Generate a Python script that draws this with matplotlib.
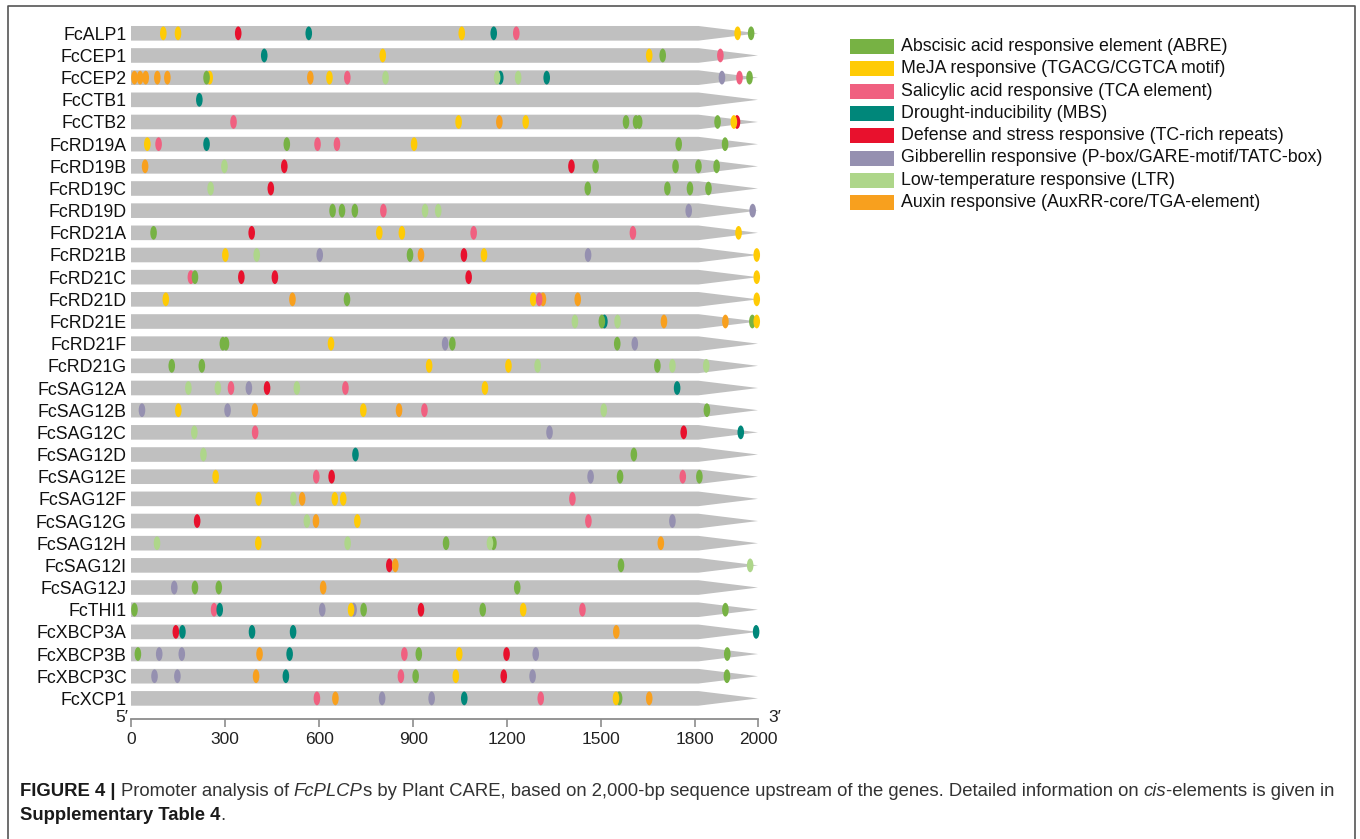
import matplotlib
matplotlib.use('Agg')
import matplotlib.pyplot as plt
from matplotlib.patches import Ellipse, Polygon, Rectangle

# --- DATA ---
genes = ['FcALP1', 'FcCEP1', 'FcCEP2', 'FcCTB1', 'FcCTB2',
         'FcRD19A', 'FcRD19B', 'FcRD19C', 'FcRD19D',
         'FcRD21A', 'FcRD21B', 'FcRD21C', 'FcRD21D', 'FcRD21E', 'FcRD21F', 'FcRD21G',
         'FcSAG12A', 'FcSAG12B', 'FcSAG12C', 'FcSAG12D', 'FcSAG12E',
         'FcSAG12F', 'FcSAG12G', 'FcSAG12H', 'FcSAG12I', 'FcSAG12J',
         'FcTHI1', 'FcXBCP3A', 'FcXBCP3B', 'FcXBCP3C', 'FcXCP1']

element_keys = ['ABRE', 'MeJA', 'SA', 'MBS', 'TC', 'GA', 'LTR', 'AUX']
element_names = ['Abscisic acid responsive element (ABRE)',
                 'MeJA responsive (TGACG/CGTCA motif)',
                 'Salicylic acid responsive (TCA element)',
                 'Drought-inducibility (MBS)',
                 'Defense and stress responsive (TC-rich repeats)',
                 'Gibberellin responsive (P-box/GARE-motif/TATC-box)',
                 'Low-temperature responsive (LTR)',
                 'Auxin responsive (AuxRR-core/TGA-element)']
element_colors = ['#77B244', '#FFCB05', '#F06080', '#00877A',
                  '#E8112D', '#9590B0', '#AED68A', '#F8A01E']

# cis-element positions (bp upstream), one list per gene
sites = [
    [(103, 'MeJA'), (150, 'MeJA'), (342, 'TC'), (567, 'MBS'), (1055, 'MeJA'), (1157, 'MBS'),
     (1229, 'SA'), (1935, 'MeJA'), (1978, 'ABRE')],                                    # FcALP1
    [(425, 'MBS'), (803, 'MeJA'), (1653, 'MeJA'), (1696, 'ABRE'), (1880, 'SA')],       # FcCEP1
    [(11, 'AUX'), (29, 'AUX'), (47, 'AUX'), (84, 'AUX'), (116, 'AUX'), (251, 'MeJA'),
     (241, 'ABRE'), (572, 'AUX'), (633, 'MeJA'), (690, 'SA'), (812, 'LTR'), (1178, 'MBS'),
     (1168, 'LTR'), (1235, 'LTR'), (1326, 'MBS'), (1885, 'GA'), (1941, 'SA'), (1973, 'ABRE')],  # FcCEP2
    [(218, 'MBS')],                                                                    # FcCTB1
    [(327, 'SA'), (1045, 'MeJA'), (1175, 'AUX'), (1259, 'MeJA'), (1579, 'ABRE'), (1611, 'ABRE'),
     (1621, 'ABRE'), (1871, 'ABRE'), (1933, 'TC'), (1923, 'MeJA')],                   # FcCTB2
    [(52, 'MeJA'), (88, 'SA'), (241, 'MBS'), (497, 'ABRE'), (595, 'SA'), (657, 'SA'),
     (903, 'MeJA'), (1747, 'ABRE'), (1895, 'ABRE')],                                  # FcRD19A
    [(45, 'AUX'), (298, 'LTR'), (489, 'TC'), (1405, 'TC'), (1482, 'ABRE'), (1737, 'ABRE'),
     (1810, 'ABRE'), (1868, 'ABRE')],                                                  # FcRD19B
    [(254, 'LTR'), (446, 'TC'), (1457, 'ABRE'), (1711, 'ABRE'), (1783, 'ABRE'), (1842, 'ABRE')],  # FcRD19C
    [(643, 'ABRE'), (673, 'ABRE'), (714, 'ABRE'), (805, 'SA'), (938, 'LTR'), (980, 'LTR'),
     (1779, 'GA'), (1983, 'GA')],                                                      # FcRD19D
    [(72, 'ABRE'), (385, 'TC'), (792, 'MeJA'), (864, 'MeJA'), (1093, 'SA'), (1601, 'SA'),
     (1938, 'MeJA')],                                                                  # FcRD21A
    [(301, 'MeJA'), (401, 'LTR'), (602, 'GA'), (890, 'ABRE'), (925, 'AUX'), (1062, 'TC'),
     (1126, 'MeJA'), (1458, 'GA'), (1996, 'MeJA')],                                    # FcRD21B
    [(191, 'SA'), (204, 'ABRE'), (352, 'TC'), (459, 'TC'), (1077, 'TC'), (1996, 'MeJA')],  # FcRD21C
    [(111, 'MeJA'), (515, 'AUX'), (689, 'ABRE'), (1283, 'MeJA'), (1314, 'AUX'), (1302, 'SA'),
     (1425, 'AUX'), (1996, 'MeJA')],                                                   # FcRD21D
    [(1416, 'LTR'), (1510, 'MBS'), (1502, 'ABRE'), (1552, 'LTR'), (1700, 'AUX'), (1896, 'AUX'),
     (1982, 'ABRE'), (1996, 'MeJA')],                                                  # FcRD21E
    [(293, 'ABRE'), (303, 'ABRE'), (638, 'MeJA'), (1002, 'GA'), (1025, 'ABRE'), (1551, 'ABRE'),
     (1607, 'GA')],                                                                    # FcRD21F
    [(130, 'ABRE'), (226, 'ABRE'), (951, 'MeJA'), (1204, 'MeJA'), (1297, 'LTR'), (1679, 'ABRE'),
     (1727, 'LTR'), (1835, 'LTR')],                                                    # FcRD21G
    [(183, 'LTR'), (277, 'LTR'), (319, 'SA'), (376, 'GA'), (434, 'TC'), (529, 'LTR'), (684, 'SA'),
     (1129, 'MeJA'), (1742, 'MBS')],                                                   # FcSAG12A
    [(35, 'GA'), (151, 'MeJA'), (308, 'GA'), (395, 'AUX'), (741, 'MeJA'), (855, 'AUX'), (936, 'SA'),
     (1508, 'LTR'), (1837, 'ABRE')],                                                   # FcSAG12B
    [(202, 'LTR'), (396, 'SA'), (1335, 'GA'), (1763, 'TC'), (1945, 'MBS')],            # FcSAG12C
    [(231, 'LTR'), (716, 'MBS'), (1604, 'ABRE')],                                      # FcSAG12D
    [(270, 'MeJA'), (591, 'SA'), (640, 'TC'), (1466, 'GA'), (1560, 'ABRE'), (1760, 'SA'),
     (1813, 'ABRE')],                                                                  # FcSAG12E
    [(407, 'MeJA'), (518, 'LTR'), (546, 'AUX'), (650, 'MeJA'), (677, 'MeJA'), (1408, 'SA')],  # FcSAG12F
    [(211, 'TC'), (561, 'LTR'), (590, 'AUX'), (722, 'MeJA'), (1459, 'SA'), (1727, 'GA')],  # FcSAG12G
    [(83, 'LTR'), (406, 'MeJA'), (691, 'LTR'), (1005, 'ABRE'), (1156, 'ABRE'), (1145, 'LTR'),
     (1690, 'AUX')],                                                                   # FcSAG12H
    [(824, 'TC'), (843, 'AUX'), (1563, 'ABRE'), (1975, 'LTR')],                        # FcSAG12I
    [(138, 'GA'), (204, 'ABRE'), (280, 'ABRE'), (613, 'AUX'), (1232, 'ABRE')],         # FcSAG12J
    [(11, 'ABRE'), (265, 'SA'), (283, 'MBS'), (610, 'GA'), (710, 'GA'), (702, 'MeJA'),
     (742, 'ABRE'), (925, 'TC'), (1122, 'ABRE'), (1251, 'MeJA'), (1440, 'SA'), (1896, 'ABRE')],  # FcTHI1
    [(143, 'TC'), (164, 'MBS'), (386, 'MBS'), (517, 'MBS'), (1548, 'AUX'), (1994, 'MBS')],  # FcXBCP3A
    [(22, 'ABRE'), (90, 'GA'), (162, 'GA'), (410, 'AUX'), (506, 'MBS'), (872, 'SA'), (918, 'ABRE'),
     (1047, 'MeJA'), (1198, 'TC'), (1291, 'GA'), (1902, 'ABRE')],                      # FcXBCP3B
    [(75, 'GA'), (148, 'GA'), (399, 'AUX'), (494, 'MBS'), (861, 'SA'), (908, 'ABRE'),
     (1036, 'MeJA'), (1189, 'TC'), (1281, 'GA'), (1901, 'ABRE')],                      # FcXBCP3C
    [(593, 'SA'), (652, 'AUX'), (801, 'GA'), (959, 'GA'), (1063, 'MBS'), (1307, 'SA'),
     (1557, 'ABRE'), (1547, 'MeJA'), (1653, 'AUX')],                                   # FcXCP1
]

seq_len = 2000
x_ticks = [0, 300, 600, 900, 1200, 1500, 1800, 2000]

# --- STYLE ---
W, H = 1360, 839
bar_color = '#C0C0C0'
rect_end = 1810          # where the arrow head starts
bar_half = 0.33          # in row units
mark_w = 21              # in bp
mark_h = 0.62            # in row units
label_size = 12.8
label_font = ['Liberation Sans', 'DejaVu Sans']
narrow_font = ['Liberation Sans Narrow', 'Liberation Sans', 'DejaVu Sans']
color_of = dict(zip(element_keys, element_colors))

fig = plt.figure(figsize=(W / 100, H / 100), dpi=100)

# overlay axes in pixel coordinates (frame, legend, caption)
bg = fig.add_axes([0, 0, 1, 1])
bg.set_xlim(0, W)
bg.set_ylim(H, 0)
bg.axis('off')

# outer frame (bottom edge is cut off in the reference)
bg.plot([8, 8, 1355, 1355], [H + 5, 6, 6, H + 5], color='#555555', lw=1.2, clip_on=False)

# --- MAIN PANEL ---
ax = fig.add_axes([131 / W, 1 - 719 / H, 627 / W, 697 / H])
ax.patch.set_alpha(0)
ax.set_xlim(0, seq_len)
ax.set_ylim(30.93, -0.51)

for i, gene in enumerate(genes):
    ax.add_patch(Polygon([(0, i - bar_half), (rect_end, i - bar_half), (seq_len, i),
                          (rect_end, i + bar_half), (0, i + bar_half)],
                         closed=True, facecolor=bar_color, edgecolor='none', zorder=1))
    for pos, key in sites[i]:
        ax.add_patch(Ellipse((pos, i), mark_w, mark_h, facecolor=color_of[key],
                             edgecolor='none', zorder=2, clip_on=False))

ax.set_yticks(range(len(genes)))
ax.set_yticklabels(genes, fontsize=label_size, family=label_font, color='#111111')
ax.tick_params(axis='y', length=0, pad=3)

ax.set_xticks(x_ticks)
ax.set_xticklabels([str(t) for t in x_ticks], fontsize=12.5, family=narrow_font, color='#222222')
ax.tick_params(axis='x', direction='out', length=6, width=1.2, color='#8C8C8C', pad=3)
for side in ['top', 'right', 'left']:
    ax.spines[side].set_visible(False)
ax.spines['bottom'].set_color('#8C8C8C')
ax.spines['bottom'].set_linewidth(1.3)

bg.text(122, 717, "5\u2032", fontsize=12.5, family=narrow_font, ha='center', va='center', color='#222222')
bg.text(775, 717, "3\u2032", fontsize=12.5, family=narrow_font, ha='center', va='center', color='#222222')

# --- LEGEND ---
for k, (name, col) in enumerate(zip(element_names, element_colors)):
    yc = 46.7 + 22.26 * k
    bg.add_patch(Rectangle((850, yc - 7.5), 44, 15, facecolor=col, edgecolor='none'))
    bg.text(901, yc, name, fontsize=label_size, family=label_font, ha='left', va='center', color='#111111')

# --- CAPTION ---
renderer = fig.canvas.get_renderer()

line1 = [('FIGURE 4 | ', 'bold', 'normal', '#1a1a1a'),
         ('Promoter analysis of ', 'normal', 'normal', '#333333'),
         ('FcPLCP', 'normal', 'italic', '#333333'),
         ('s by Plant CARE, based on 2,000-bp sequence upstream of the genes. Detailed information on ',
          'normal', 'normal', '#333333'),
         ('cis', 'normal', 'italic', '#333333'),
         ('-elements is given in', 'normal', 'normal', '#333333')]
line2 = [('Supplementary Table 4', 'bold', 'normal', '#1a1a1a'),
         ('.', 'normal', 'normal', '#333333')]


def draw_runs(x, y, runs, size):
    texts = []
    for txt, weight, style, col in runs:
        t = bg.text(x, y, txt, fontsize=size, family=narrow_font, fontweight=weight,
                    fontstyle=style, color=col, ha='left', va='center')
        x += t.get_window_extent(renderer).width
        texts.append(t)
    return texts, x


# fit caption line 1 to the width it takes in the reference
tmp, x_end = draw_runs(20, 791, line1, 12)
scale = (1343 - 20) / (x_end - 20)
for t in tmp:
    t.remove()
cap_size = 12 * scale
draw_runs(20, 791, line1, cap_size)
draw_runs(20, 816, line2, cap_size)

plt.savefig('out.png', dpi=100)
